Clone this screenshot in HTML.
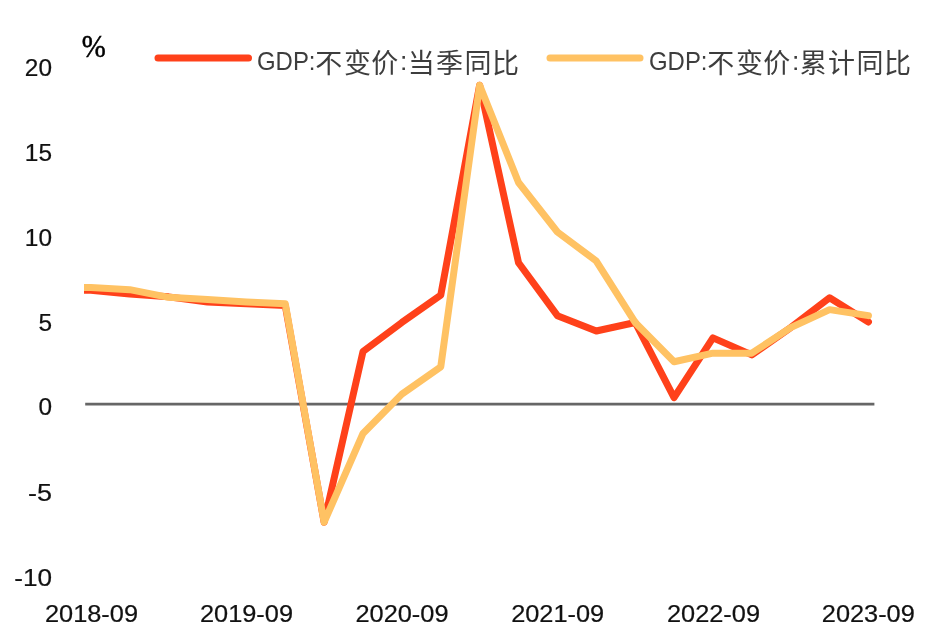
<!DOCTYPE html>
<html><head><meta charset="utf-8"><title>GDP</title>
<style>
html,body{margin:0;padding:0;background:#fff;}
svg{display:block;filter:blur(0.45px);}
.n{font-family:"Liberation Sans","Noto Sans CJK SC",sans-serif;font-size:24.4px;fill:#111;stroke:#111;stroke-width:0.22px;}
.l{font-family:"Liberation Sans","Noto Sans CJK SC",sans-serif;font-size:26.5px;fill:#3d3d3d;}
.c{font-family:"Noto Sans CJK SC",sans-serif;font-size:27px;fill:#3d3d3d;}
.p{font-family:"Liberation Serif",serif;font-size:30.4px;fill:#000;}
</style></head><body>
<svg width="928" height="642" viewBox="0 0 928 642">
<defs><clipPath id="cp"><rect x="84" y="0" width="844" height="642"/></clipPath></defs>
<rect width="928" height="642" fill="#fff"/>
<line x1="85.2" y1="404.2" x2="874.4" y2="404.2" stroke="#666" stroke-width="2.8"/>
<polyline points="51.97,289.18 90.85,290.37 129.73,294.13 168.61,296.86 207.49,301.98 246.37,303.69 285.25,305.39 324.13,522.18 363.01,351.48 401.89,322.46 440.77,295.15 479.65,85.19 518.53,262.72 557.41,315.64 596.29,331.00 635.17,322.46 674.05,397.57 712.93,337.83 751.81,354.90 790.69,327.58 829.57,297.71 868.45,321.95" fill="none" stroke="#FF411A" stroke-width="7" stroke-linejoin="round" stroke-linecap="round" clip-path="url(#cp)"/>
<polyline points="51.97,287.47 90.85,287.47 129.73,289.69 168.61,297.37 207.49,299.42 246.37,301.98 285.25,303.69 324.13,522.18 363.01,433.42 401.89,394.16 440.77,366.85 479.65,85.19 518.53,182.49 557.41,231.99 596.29,261.01 635.17,322.46 674.05,361.72 712.93,353.19 751.81,353.19 790.69,327.58 829.57,309.66 868.45,315.64" fill="none" stroke="#FFC263" stroke-width="7" stroke-linejoin="round" stroke-linecap="round" clip-path="url(#cp)"/>
<line x1="158" y1="58" x2="248.5" y2="58" stroke="#FF411A" stroke-width="7" stroke-linecap="round"/>
<line x1="550" y1="58" x2="640" y2="58" stroke="#FFC263" stroke-width="7" stroke-linecap="round"/>
<text class="l" x="257" y="69.5" textLength="58.5" lengthAdjust="spacingAndGlyphs">GDP:</text><text class="c" x="315.20 344.10 371.20" y="72.5">不变价</text><text class="l" x="399.9" y="69.5">:</text><text class="c" x="407.80 436.00 464.60 492.00" y="72.5">当季同比</text>
<text class="l" x="649" y="69.5" textLength="58.5" lengthAdjust="spacingAndGlyphs">GDP:</text><text class="c" x="707.20 736.10 763.20" y="72.5">不变价</text><text class="l" x="791.9" y="69.5">:</text><text class="c" x="799.80 828.00 856.60 884.00" y="72.5">累计同比</text>
<text class="p" transform="translate(81.8,56.6) scale(0.95,1.02)" x="0" y="0" stroke="#000" stroke-width="0.5">%</text>
<g class="n" text-anchor="end">
<text x="52" y="75.7">20</text>
<text x="52" y="160.7">15</text>
<text x="52" y="245.7">10</text>
<text x="52" y="331.1">5</text>
<text x="52" y="415.4">0</text>
<text x="52" y="500.8" textLength="24" lengthAdjust="spacingAndGlyphs">-5</text>
<text x="52" y="586" textLength="37.8" lengthAdjust="spacingAndGlyphs">-10</text>
</g>
<g class="n" text-anchor="middle">
<text x="91.5" y="622" textLength="93" lengthAdjust="spacingAndGlyphs">2018-09</text>
<text x="246.5" y="622" textLength="93" lengthAdjust="spacingAndGlyphs">2019-09</text>
<text x="402" y="622" textLength="93" lengthAdjust="spacingAndGlyphs">2020-09</text>
<text x="557.7" y="622" textLength="93" lengthAdjust="spacingAndGlyphs">2021-09</text>
<text x="713.5" y="622" textLength="93" lengthAdjust="spacingAndGlyphs">2022-09</text>
<text x="868.3" y="622" textLength="93" lengthAdjust="spacingAndGlyphs">2023-09</text>
</g>
</svg>
</body></html>
